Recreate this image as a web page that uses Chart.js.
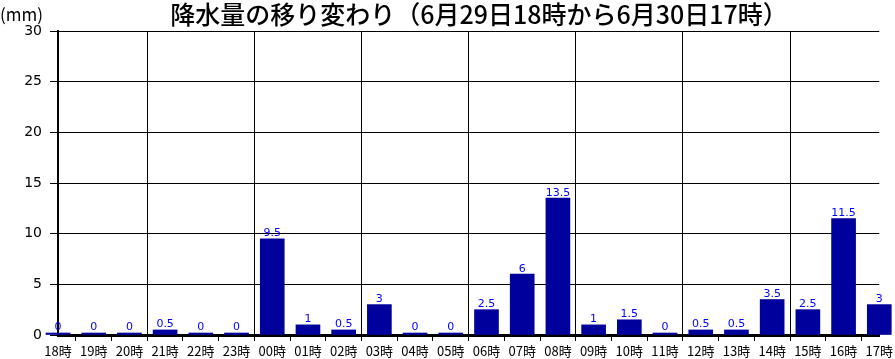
<!DOCTYPE html>
<html>
<head>
<meta charset="utf-8">
<script src="https://cdn.jsdelivr.net/npm/chart.js@4"></script>
<style>
  body { margin: 0; background: #fff; }
</style>
</head>
<body>
<canvas id="rain" width="895" height="359"></canvas>
<script>
const hours = ["18時", "19時", "20時", "21時", "22時", "23時", "00時", "01時", "02時", "03時", "04時", "05時",
    "06時", "07時", "08時", "09時", "10時", "11時", "12時", "13時", "14時", "15時", "16時", "17時"];
const rain = [0, 0, 0, 0.5, 0, 0, 9.5, 1, 0.5, 3, 0, 0, 2.5, 6, 13.5, 1, 1.5, 0, 0.5, 0.5, 3.5, 2.5, 11.5, 3];
const yTicks = [0, 5, 10, 15, 20, 25, 30];
const title = "降水量の移り変わり（6月29日18時から6月30日17時）";
const unit = "(mm)";

// numbers above bars + title + unit
const labelsPlugin = {
    id: 'labels',
    afterDatasetsDraw(chart) {
        const ctx = chart.ctx;
        const meta = chart.getDatasetMeta(0);
        ctx.save();
        ctx.font = '11px "DejaVu Sans"';
        ctx.fillStyle = '#0000ff';
        ctx.textAlign = 'center';
        ctx.textBaseline = 'bottom';
        meta.data.forEach((bar, i) => {
            ctx.fillText(String(rain[i]), bar.x, bar.y);
        });
        ctx.restore();
    },
    afterDraw(chart) {
        const ctx = chart.ctx;
        ctx.save();
        ctx.fillStyle = '#000';
        ctx.textBaseline = 'middle';
        ctx.textAlign = 'center';
        ctx.font = '500 25px "Noto Sans CJK JP"';
        ctx.fillText(title, 479, 14);
        ctx.textAlign = 'left';
        ctx.font = '17px "Noto Sans CJK JP"';
        ctx.fillText(unit, 0, 15);
        ctx.restore();
    }
};

const chart = new Chart(document.getElementById('rain'), {
    type: 'bar',
    data: {
        labels: hours,
        datasets: [{
            data: rain,
            backgroundColor: '#00009c',
            barThickness: 24,
            minBarLength: 2,
            clip: false
        }]
    },
    options: {
        responsive: false,
        animation: false,
        layout: {padding: {top: 31, right: 15, left: 0, bottom: 0}},
        plugins: {legend: {display: false}, tooltip: {enabled: false}},
        scales: {
            x: {
                offset: false,
                afterFit: (s) => { s.height = 24; },
                border: {color: '#000', width: 3},
                grid: {
                    color: (c) => (c.index % 3 === 0 ? '#000' : 'rgba(0,0,0,0)'),
                    tickColor: '#000',
                    tickLength: 6,
                    lineWidth: 1
                },
                ticks: {color: '#000', font: {family: '"Noto Sans CJK JP"', size: 13}, padding: 2, maxRotation: 0, autoSkip: false}
            },
            y: {
                min: 0,
                max: 30,
                afterFit: (s) => { s.width = 58; },
                afterBuildTicks: (s) => { s.ticks = yTicks.map(v => ({value: v})); },
                border: {color: '#000', width: 2},
                grid: {color: '#000', tickColor: '#000', tickLength: 8, lineWidth: 1},
                ticks: {color: '#000', font: {family: '"DejaVu Sans"', size: 14}, padding: 8}
            }
        }
    },
    plugins: [labelsPlugin]
});
</script>
</body>
</html>
